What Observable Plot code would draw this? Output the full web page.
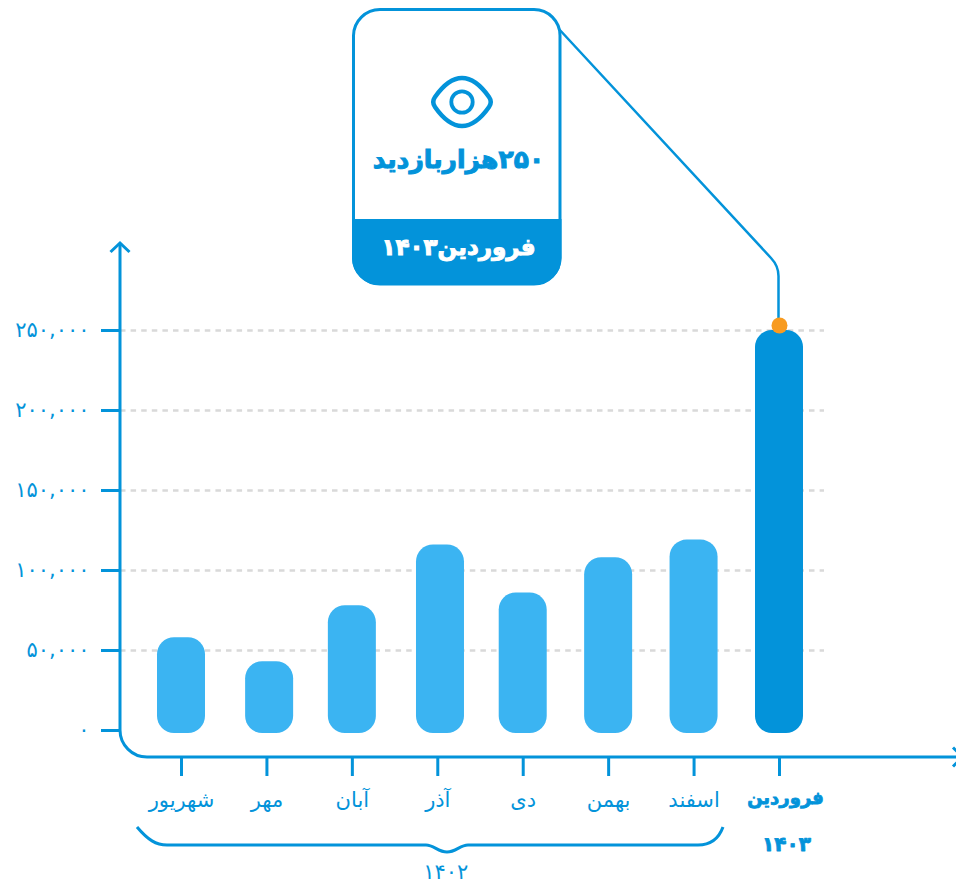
<!DOCTYPE html>
<html lang="fa">
<head>
<meta charset="utf-8">
<style>
html,body{margin:0;padding:0;background:#fff}
svg{display:block}
</style>
<script src="https://cdn.jsdelivr.net/npm/d3@7"></script>
<script src="https://cdn.jsdelivr.net/npm/@observablehq/plot@0.6"></script>
</head>
<body>
<script>
const months = ["شهریور","مهر","آبان","آذر","دی","بهمن","اسفند","فروردین"];
const visits = [58000,43000,78000,116000,86000,108000,119000,250000];
const yTicks = [0,50000,100000,150000,200000,250000];
const yTickLabels = ["۰","۵۰,۰۰۰","۱۰۰,۰۰۰","۱۵۰,۰۰۰","۲۰۰,۰۰۰","۲۵۰,۰۰۰"];
const highlight = "فروردین";
const highlightYear = "۱۴۰۳";
const groupYear = "۱۴۰۲";
const cardValue = "\u200F۲۵۰هزاربازدید";
const cardMonth = "\u200Fفروردین۱۴۰۳";
const shifted = ["مهر","آذر"];

const table = months.map((month,i)=>({month,value:visits[i]}));
const BLUE="#0393DA", LIGHT="#3BB4F2", ORANGE="#F89B20", GRID="#D9D9D9";
const FONT="'DejaVu Sans', sans-serif";

function pathMark(d,attrs={}){
  return ()=>{
    const p=d3.create("svg:path").attr("d",d).attr("fill","none").attr("stroke",BLUE).attr("stroke-width",3);
    for(const k in attrs)p.attr(k,attrs[k]);
    return p.node();
  };
}
function cardMark(){
  const g=d3.create("svg:g");
  g.append("path").attr("d","M380,9.500H534A26,26 0 0 1 560,35.500V258A26,26 0 0 1 534,284H380A26.500,26.500 0 0 1 353.500,258V35.500A26.500,26.500 0 0 1 380,9.500Z")
    .attr("fill","#fff").attr("stroke",BLUE).attr("stroke-width",3);
  g.append("path").attr("d","M352,219H561.500V258A27,27 0 0 1 534.500,285H379A27,27 0 0 1 352,258Z").attr("fill",BLUE);
  g.append("path").attr("d","M435,107Q431.500,102 435,97C442,87 452,78 462,78C472,78 482,87 489,97Q492.500,102 489,107C482,117 472,126 462,126C452,126 442,117 435,107Z")
    .attr("fill","none").attr("stroke",BLUE).attr("stroke-width",4.500).attr("stroke-linejoin","round");
  g.append("circle").attr("cx",462).attr("cy",102).attr("r",10.700).attr("fill","none").attr("stroke",BLUE).attr("stroke-width",3.800);
  const t=(s,y,size,c)=>g.append("text").text(s).attr("x",458.500).attr("y",y).attr("text-anchor","middle").attr("dominant-baseline","middle")
    .attr("font-family",FONT).attr("font-weight","bold").attr("font-size",size).attr("fill",c).attr("stroke",c).attr("stroke-width",1);
  t(cardValue,161,25,BLUE);
  t(cardMonth,248,23,"#fff");
  return g.node();
}

const chart = Plot.plot({
  width:956, height:884,
  marginLeft:120, marginRight:132, marginTop:0, marginBottom:127,
  style:{background:"#fff",color:BLUE,fontFamily:FONT},
  x:{type:"band",domain:months,range:[157,803],paddingInner:0.4381,paddingOuter:0,round:false,label:null},
  y:{domain:[0,250000],range:[730,330],label:null},
  marks:[
    Plot.gridY(yTicks.slice(1),{stroke:GRID,strokeOpacity:1,strokeWidth:2.500,strokeDasharray:"5.500 5.100"}),
    Plot.barY(table.filter(d=>!shifted.includes(d.month)&&d.month!==highlight),{x:"month",y:"value",fill:LIGHT,rx:17,insetBottom:-3}),
    Plot.barY(table.filter(d=>shifted.includes(d.month)),{x:"month",y:"value",fill:LIGHT,rx:17,insetBottom:-3,dx:2.700}),
    Plot.barY(table.filter(d=>d.month===highlight),{x:"month",y:"value",fill:BLUE,rx:17,insetBottom:-3}),
    Plot.axisY({ticks:yTicks,anchor:"left",tickSize:19,tickPadding:12,strokeWidth:3,fontSize:21,tickFormat:d=>yTickLabels[yTicks.indexOf(d)],label:null}),
    Plot.axisX({anchor:"bottom",tickSize:19,strokeWidth:3,tickFormat:()=>"",label:null}),
    pathMark("M120,243V730A27,27 0 0 0 147,757H962"),
    pathMark("M110.500,252L120,243L129.500,252"),
    pathMark("M953,747.500L962.500,757L953,766.500"),
    pathMark("M137,827C148,840 156,845 167,845H426C434,845 438,852 447,852C456,852 460,845 468,845H698C711,845 719,838 723,827"),
    pathMark("M558,28L771,258Q778.500,266 778.500,276V325",{"stroke-width":2.500}),
    Plot.dot(table.filter(d=>d.month===highlight),{x:"month",y:"value",dy:-5,r:8,fill:ORANGE}),
    Plot.text(table.filter(d=>d.month!==highlight),{x:"month",text:"month",frameAnchor:"bottom",lineAnchor:"middle",dy:43,fontSize:21,fill:BLUE}),
    Plot.text(table.filter(d=>d.month===highlight),{x:"month",text:"month",frameAnchor:"bottom",lineAnchor:"middle",dy:41,dx:6,fontSize:18,fontWeight:"bold",fill:BLUE,stroke:BLUE,strokeWidth:0.8}),
    Plot.text([highlightYear],{x:[highlight],text:d=>d,frameAnchor:"bottom",lineAnchor:"middle",dy:87,dx:7,fontSize:20,fontWeight:"bold",fill:BLUE,stroke:BLUE,strokeWidth:0.8}),
    Plot.text([groupYear],{x:["آذر"],text:d=>d,frameAnchor:"bottom",lineAnchor:"middle",dy:115,dx:8,fontSize:21,fill:BLUE}),
    cardMark
  ]
});
document.body.appendChild(chart);
</script>
</body>
</html>
